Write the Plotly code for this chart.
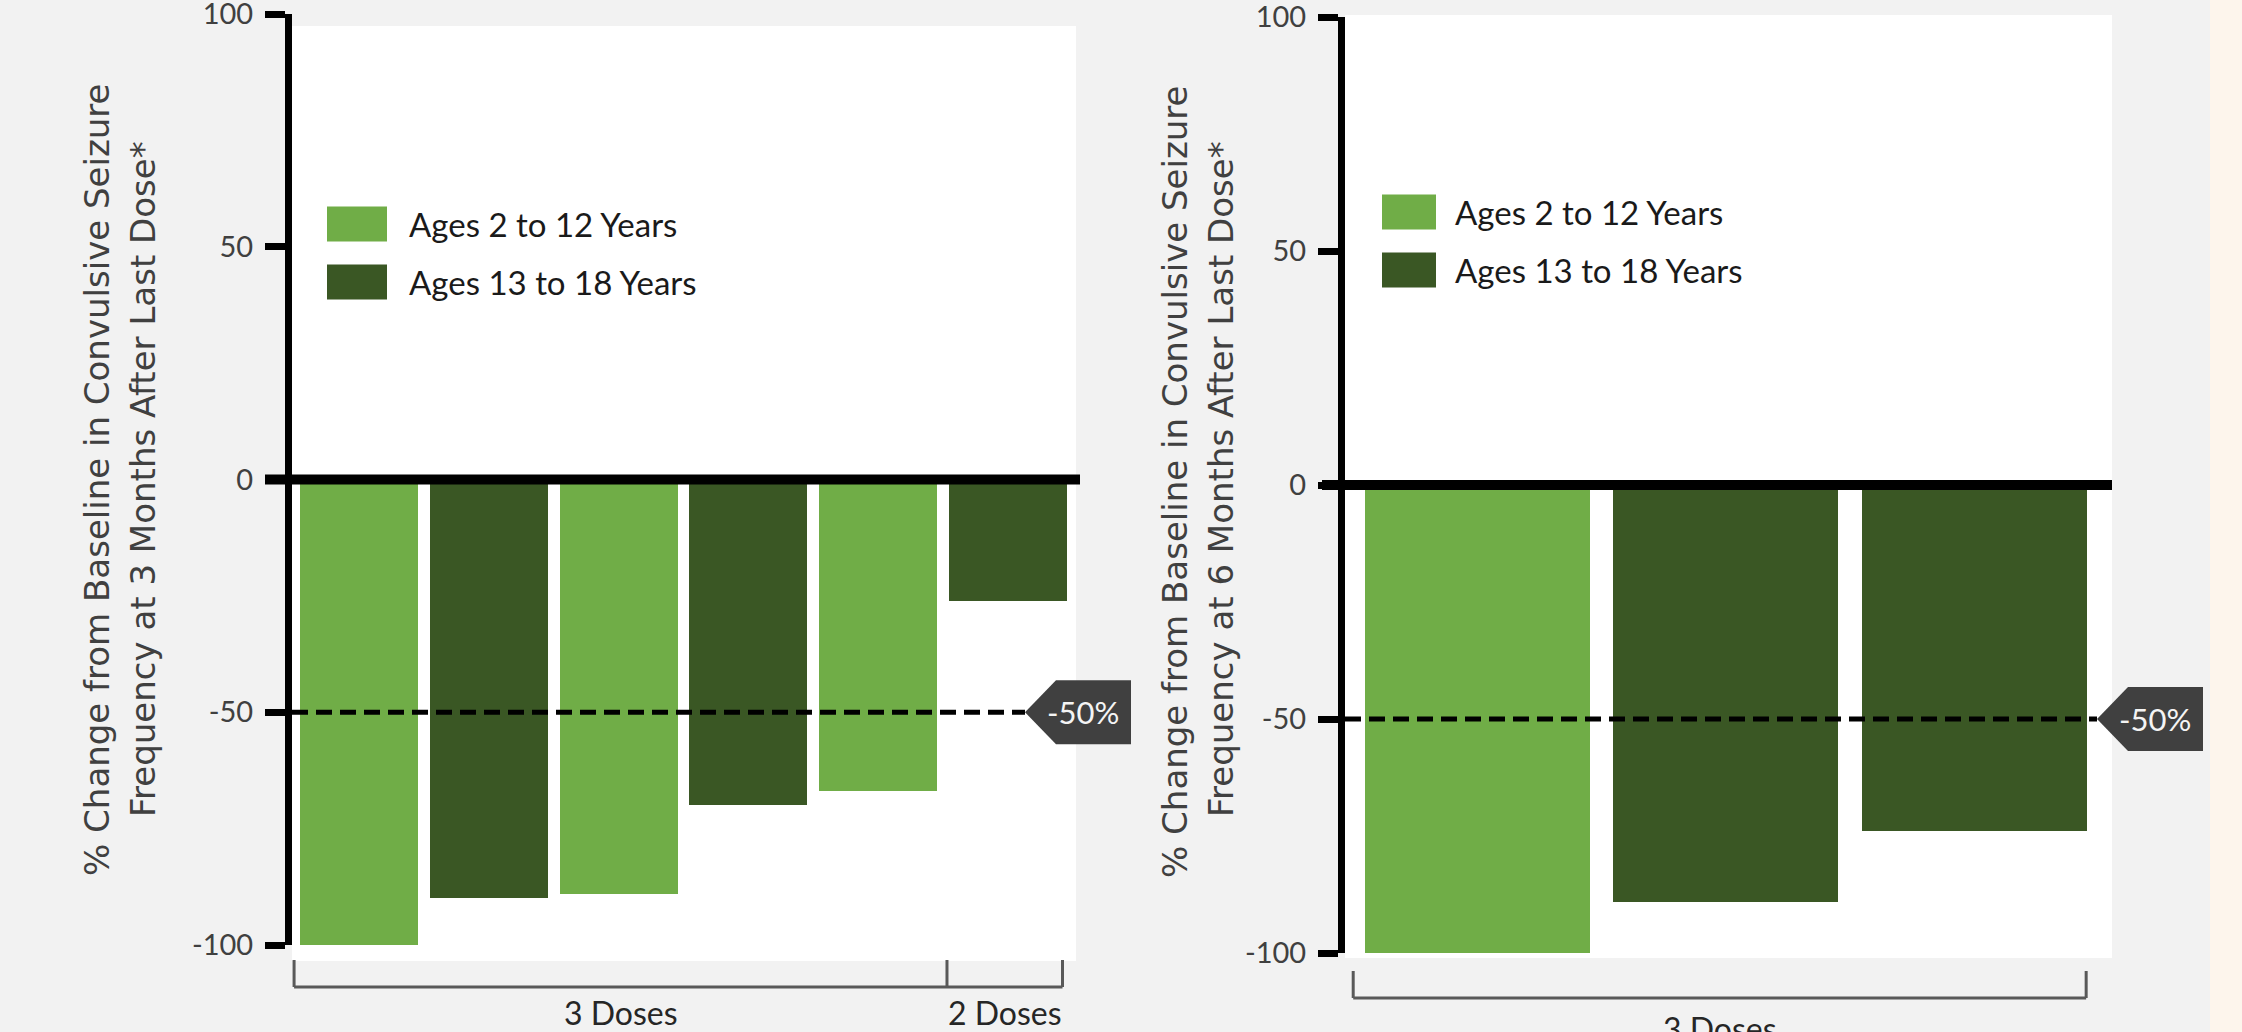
import plotly.graph_objects as go

# ---- data -------------------------------------------------------------
age_groups = ["Ages 2 to 12 Years", "Ages 13 to 18 Years"]
age_colors = ["#70AD47", "#3A5724"]

# change from baseline, 3 months after last dose (one bar per patient)
m3_group = [0, 1, 0, 1, 0, 1]
m3_change = [-100, -90, -89, -70, -67, -26]

# change from baseline, 6 months after last dose
m6_group = [0, 1, 1]
m6_change = [-100, -89, -74]

# dose brackets: (label, start, end) in bar-index units
m3_doses = [("3 Doses", -0.5, 4.53), ("2 Doses", 4.53, 5.42)]
m6_doses = [("3 Doses", -0.5, 2.45)]

y_ticks = [-100, -50, 0, 50, 100]
y_tick_text = ["-100", "-50", "0", "50", "100"]
threshold = -50
threshold_text = "-50%"

title_m3 = ["% Change from Baseline in Convulsive Seizure",
            "Frequency at 3 Months After Last Dose*"]
title_m6 = ["% Change from Baseline in Convulsive Seizure",
            "Frequency at 6 Months After Last Dose*"]

# ---- layout geometry (pixels) ----------------------------------------
W, H = 2242, 1032


def px(x):
    return x / W


def py(y):
    return 1 - y / H


TICK_FONT = dict(family="Lato", size=29, color="#404040")
LABEL_FONT = dict(family="Lato", size=32, color="#262626")
LEGEND_FONT = dict(family="Lato", size=33, color="#1a1a1a")
TITLE_FONT = dict(family="DejaVu Sans", size=34, color="#404040")

fig = go.Figure()

panels = [
    dict(group=m3_group, change=m3_change, xa="x", ya="y",
         plot_x=(292, 1076), plot_y=(14, 945), xrange=(-0.516, 5.524),
         white=(292, 26, 1076, 961), zero_x=(265, 1080),
         dash_end=1025, tag_w=106, tag_txt=1083,
         legend=(327, 407, 224, 282, 60, 35),
         titles=title_m3, title_pos=((97, 480), (143, 479)),
         doses=m3_doses, bracket_y=(960, 987), dose_label_y=1012),
    dict(group=m6_group, change=m6_change, xa="x2", ya="y2",
         plot_x=(1345, 2112), plot_y=(17, 953), xrange=(-0.533, 2.554),
         white=(1345, 15, 2112, 958), zero_x=(1322, 2112),
         dash_end=2097, tag_w=106, tag_txt=2155,
         legend=(1382, 1453, 212, 270, 54, 35),
         titles=title_m6, title_pos=((1175, 482), (1221, 479)),
         doses=m6_doses, bracket_y=(971, 998), dose_label_y=1028),
]

shapes = []
annotations = []

for i, p in enumerate(panels):
    sfx = "" if i == 0 else "2"
    xa_ref, ya_ref = p["xa"], p["ya"]

    # bars
    fig.add_trace(go.Bar(
        x=list(range(len(p["change"]))),
        y=p["change"],
        width=0.91 if i == 0 else 0.905,
        marker=dict(color=[age_colors[g] for g in p["group"]], line=dict(width=0)),
        xaxis=xa_ref, yaxis=ya_ref,
        showlegend=False,
        hovertemplate="%{y}%<extra></extra>",
    ))

    fig.update_layout(**{
        f"xaxis{sfx}": dict(domain=[px(p["plot_x"][0]), px(p["plot_x"][1])],
                            range=list(p["xrange"]), visible=False,
                            anchor=ya_ref, fixedrange=True, automargin=False),
        f"yaxis{sfx}": dict(domain=[py(p["plot_y"][1]), py(p["plot_y"][0])],
                            range=[-100, 100], anchor=xa_ref,
                            tickvals=y_ticks, ticktext=y_tick_text,
                            tickfont=TICK_FONT, ticks="outside", ticklen=20,
                            tickwidth=7, tickcolor="black",
                            showline=True, linewidth=7, linecolor="black",
                            showgrid=False, zeroline=False,
                            ticklabelstandoff=6, ticklabeloverflow="allow",
                            automargin=False, fixedrange=True),
    })

    # white panel background
    x0, y0, x1, y1 = p["white"]
    shapes.append(dict(type="rect", xref="paper", yref="paper", layer="below",
                       x0=px(x0), x1=px(x1), y0=py(y1), y1=py(y0),
                       fillcolor="white", line=dict(width=0)))

    # zero line
    shapes.append(dict(type="line", xref="paper", yref=ya_ref,
                       x0=px(p["zero_x"][0]), x1=px(p["zero_x"][1]), y0=0, y1=0,
                       line=dict(color="black", width=10)))

    # -50% threshold line
    shapes.append(dict(type="line", xref="paper", yref=ya_ref,
                       x0=px(p["plot_x"][0]), x1=px(p["dash_end"]),
                       y0=threshold, y1=threshold,
                       line=dict(color="black", width=5, dash="16px,8px")))

    # threshold tag
    tw = p["tag_w"]
    shapes.append(dict(type="path", xref="paper", yref=ya_ref,
                       xsizemode="pixel", ysizemode="pixel",
                       xanchor=px(p["dash_end"]), yanchor=threshold,
                       path=f"M0,0 L31,32 L{tw},32 L{tw},-32 L31,-32 Z",
                       fillcolor="#404040", line=dict(width=0)))
    annotations.append(dict(xref="paper", yref=ya_ref, x=px(p["tag_txt"]), y=threshold,
                            text=threshold_text, showarrow=False,
                            xanchor="center", yanchor="middle",
                            font=dict(family="Lato", size=31, color="#f4f4f4")))

    # legend
    lx, tx, ry0, ry1, sw, sh = p["legend"]
    for name, color, cy in zip(age_groups, age_colors, (ry0, ry1)):
        shapes.append(dict(type="rect", xref="paper", yref="paper",
                           x0=px(lx), x1=px(lx + sw), y0=py(cy + sh / 2), y1=py(cy - sh / 2),
                           fillcolor=color, line=dict(width=0)))
        annotations.append(dict(xref="paper", yref="paper", x=px(tx), y=py(cy),
                                text=name, showarrow=False, xanchor="left",
                                yanchor="middle", font=LEGEND_FONT))

    # y-axis title (two lines)
    for line, (cx, cy) in zip(p["titles"], p["title_pos"]):
        annotations.append(dict(xref="paper", yref="paper", x=px(cx), y=py(cy),
                                text=line, showarrow=False, textangle=-90,
                                xanchor="center", yanchor="middle", font=TITLE_FONT))

    # dose brackets
    bt, bb = p["bracket_y"]
    edges = sorted({d[1] for d in p["doses"]} | {d[2] for d in p["doses"]})
    lo, hi = edges[0], edges[-1]
    shapes.append(dict(type="line", xref=xa_ref, yref="paper",
                       x0=lo, x1=hi, y0=py(bb), y1=py(bb),
                       line=dict(color="#595959", width=3)))
    for e in edges:
        shapes.append(dict(type="line", xref=xa_ref, yref="paper",
                           x0=e, x1=e, y0=py(bb), y1=py(bt),
                           line=dict(color="#595959", width=3)))
    for label, a, b in p["doses"]:
        annotations.append(dict(xref=xa_ref, yref="paper", x=(a + b) / 2,
                                y=py(p["dose_label_y"]), text=label, showarrow=False,
                                xanchor="center", yanchor="middle", font=LABEL_FONT))

# pale strip at the right edge of the page
shapes.append(dict(type="rect", xref="paper", yref="paper", layer="below",
                   x0=px(2210), x1=1, y0=0, y1=1,
                   fillcolor="#FDF5EC", line=dict(width=0)))

fig.update_layout(
    width=W, height=H,
    margin=dict(l=0, r=0, t=0, b=0, autoexpand=False),
    paper_bgcolor="#F2F2F2",
    plot_bgcolor="rgba(0,0,0,0)",
    bargap=0,
    shapes=shapes,
    annotations=annotations,
    showlegend=False,
)

fig.write_html("out.html", config={"displayModeBar": False})
